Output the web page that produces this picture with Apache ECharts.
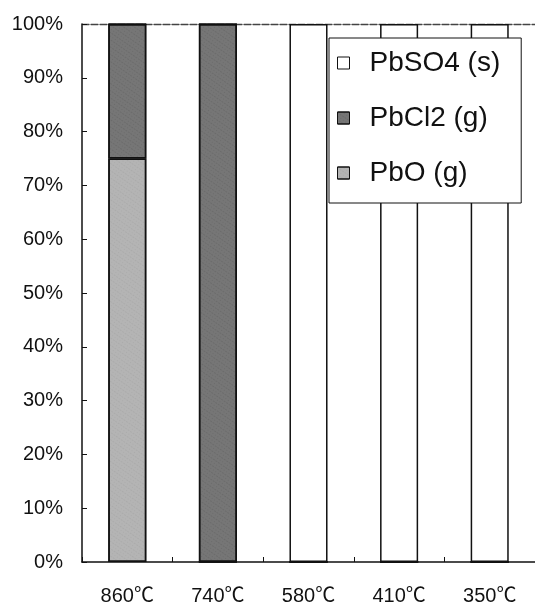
<!DOCTYPE html>
<html>
<head>
<meta charset="utf-8">
<script src="https://cdn.jsdelivr.net/npm/echarts@6/dist/echarts.min.js"></script>
<style>
  html, body { margin: 0; padding: 0; background: #fff; }
  #chart { width: 535px; height: 606px; }
</style>
</head>
<body>
<div id="chart"></div>
<script>
// Lead species distribution by temperature (share of total, %)
const categories = ['860℃', '740℃', '580℃', '410℃', '350℃'];
const pbo   = [75, 0, 0, 0, 0];
const pbcl2 = [25, 100, 0, 0, 0];
const pbso4 = [0, 0, 100, 100, 100];
const yTicks = [0, 10, 20, 30, 40, 50, 60, 70, 80, 90, 100];

const FONT = "'Liberation Sans', Arial, 'Noto Sans CJK JP', sans-serif";

const chart = echarts.init(document.getElementById('chart'), null, { renderer: 'canvas' });

// speckled print texture for the filled bars
const speckle = (dot) => ({
  symbol: 'rect',
  symbolSize: 0.5,
  color: dot,
  dashArrayX: [[1, 2], [2, 1]],
  dashArrayY: [1, 2],
  rotation: 0.6
});

const barStyle = (color, dot) => {
  const s = { color: color, borderColor: '#111', borderWidth: 1.5 };
  if (dot) s.decal = speckle(dot);
  return s;
};

chart.setOption({
  animation: false,
  backgroundColor: '#fff',
  grid: { left: 82, right: 0, top: 24, bottom: 44 },
  legend: {
    orient: 'vertical',
    left: 329,
    top: 38,
    padding: [11, 21, 16, 8],
    itemGap: 27,
    itemWidth: 12,
    itemHeight: 12,
    icon: 'rect',
    backgroundColor: '#fff',
    borderColor: '#111',
    borderWidth: 1,
    data: ['PbSO4 (s)', 'PbCl2 (g)', 'PbO (g)'],
    textStyle: { fontFamily: FONT, fontSize: 28, color: '#111', padding: [0, 0, 0, 15] },
    itemStyle: { borderColor: '#111', borderWidth: 1 }
  },
  xAxis: [
    {
      type: 'category',
      data: categories,
      axisLine: { show: true, lineStyle: { color: '#111', width: 1.5 } },
      axisTick: { show: true, inside: true, length: 5, alignWithLabel: false, lineStyle: { color: '#111' } },
      axisLabel: { fontFamily: FONT, fontSize: 20, color: '#111', margin: 24 }
    },
    {
      // top frame line of the plot area
      type: 'category',
      position: 'top',
      data: categories,
      axisLine: { show: true, lineStyle: { color: '#444', width: 1.3, type: [7, 2] } },
      axisTick: { show: false },
      axisLabel: { show: false }
    }
  ],
  yAxis: {
    type: 'value',
    min: 0,
    max: 100,
    interval: 10,
    axisLine: { show: true, lineStyle: { color: '#111', width: 1.5 } },
    axisTick: { show: true, inside: true, length: 5, lineStyle: { color: '#111' } },
    splitLine: { show: false },
    axisLabel: {
      fontFamily: FONT, fontSize: 20, color: '#111', margin: 19,
      formatter: (v) => yTicks.includes(v) ? v + '%' : ''
    }
  },
  series: [
    {
      name: 'PbO (g)', type: 'bar', stack: 'total', data: pbo,
      barWidth: '42%', itemStyle: barStyle('#b4b4b4', 'rgba(120,120,120,0.6)')
    },
    {
      name: 'PbCl2 (g)', type: 'bar', stack: 'total', data: pbcl2,
      barWidth: '42%', itemStyle: barStyle('#767676', 'rgba(50,50,50,0.6)')
    },
    {
      name: 'PbSO4 (s)', type: 'bar', stack: 'total', data: pbso4,
      barWidth: '42%', itemStyle: barStyle('#ffffff', null)
    }
  ]
});
</script>
</body>
</html>
